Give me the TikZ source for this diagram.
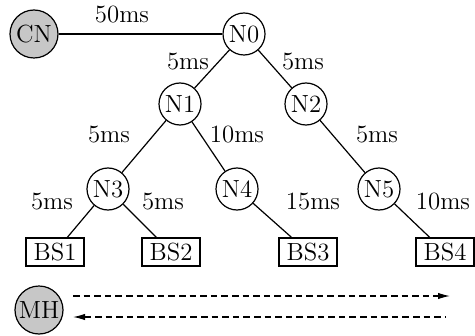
\documentclass[tikz,border=0pt]{standalone}
\usepackage{tikz}
\usetikzlibrary{positioning}
\usetikzlibrary{arrows.meta}
\colorlet{hostcol}{black!22}
\tikzset{>={Latex[length=6pt,width=3.2pt]}}
\newcommand{\netfont}{\fontsize{12.4}{15}\selectfont}

\begin{document}
\begin{tikzpicture}[x=0.5pt, y=-0.5pt, line width=0.6pt,
  router/.style={draw, circle, minimum size=21pt, inner sep=0pt, font=\netfont},
  host/.style={draw, circle, fill=hostcol, minimum size=24pt, inner sep=0pt, font=\netfont},
  bs/.style={draw, rectangle, minimum width=29pt, minimum height=14pt, inner sep=1pt, font=\netfont},
  delay/.style={font=\netfont}]

\useasboundingbox (0,0) rectangle (475,336);

% --- Hosts ---
\node[host] (CN) at (34,34) {CN};
\node[host] (MH) at (39,310) {MH};

% --- Routers ---
\foreach \n/\x/\y in {
  N0/244/34, N1/180/104, N2/306/104,
  N3/108/189, N4/237/189, N5/379/189%
}{
  \node[router] (\n) at (\x,\y) {\n};
}

% --- Base stations ---
\foreach \n/\x in {BS1/55, BS2/171, BS3/308, BS4/445}{
  \node[bs] (\n) at (\x,252) {\n};
}

% --- Links ---
\draw (CN) -- (N0);
\foreach \a/\b in {
  N0/N1, N0/N2, N1/N3, N1/N4, N2/N5,
  N3/BS1, N3/BS2, N4/BS3, N5/BS4%
}{
  \draw (\a) -- (\b);
}

% --- Link delays ---
\foreach \x/\y/\t in {
  122/15/50ms, 188/62/5ms, 303/62/5ms,
  109/135/5ms, 237/135/10ms, 377/135/5ms,
  52/202/5ms, 163/202/5ms, 313/202/15ms, 443/202/10ms%
}{
  \node[delay] at (\x,\y) {\t};
}

% --- Signalling between MH and CN side ---
\coordinate (upA) at (73,296);
\coordinate (upB) at (450,296);
\coordinate (dnA) at (73,317);
\coordinate (dnB) at (445,317);
\draw[->, dash pattern=on 3.3pt off 2pt] (upA) -- (upB);
\draw[<-, dash pattern=on 3.3pt off 2pt] (dnA) -- (dnB);

\end{tikzpicture}
\end{document}
